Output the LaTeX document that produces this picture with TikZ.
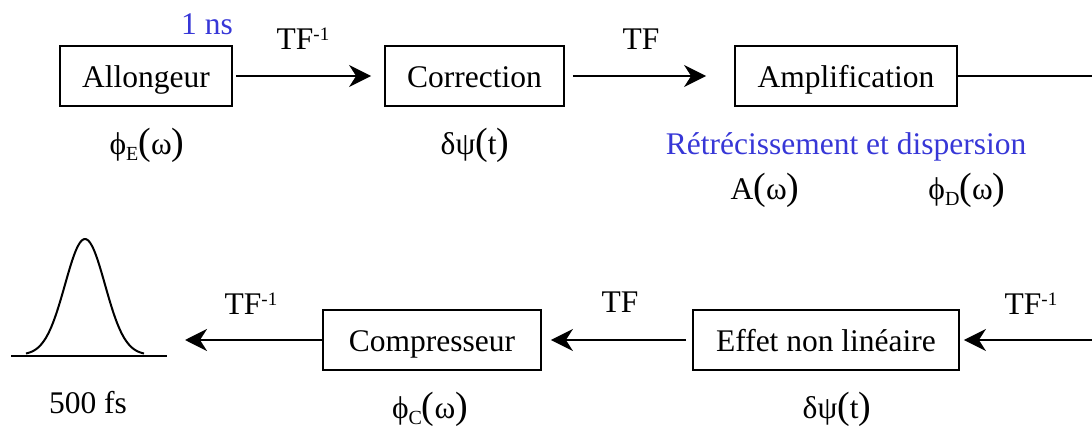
\documentclass[tikz,border=0pt]{standalone}
\usepackage{fontspec}
\setmainfont{Liberation Serif}
\usetikzlibrary{arrows.meta}
\definecolor{note}{RGB}{55,55,215}
\newcommand{\lowidx}[1]{\raisebox{-6pt}{\fontsize{20}{20}\selectfont #1}}
\newcommand{\tfinv}{TF\raisebox{9pt}{\fontsize{19}{19}\selectfont -1}}
\newcommand{\wrapp}[1]{{\fontsize{38}{38}\selectfont(}#1{\fontsize{38}{38}\selectfont)}}

\begin{document}
\begin{tikzpicture}[x=1pt, y=-1pt, font=\fontsize{31.5}{36}\selectfont,
  box/.style={draw, line width=1.8pt, minimum height=60pt, inner xsep=20pt, text height=23pt, text depth=0pt},
  lab/.style={anchor=base, inner sep=0pt},
  flow/.style={-{Stealth[length=22pt, width=22pt, inset=7pt]}, line width=2.6pt}]
\useasboundingbox (0,0) rectangle (1092,427);

% ---- top row
\node[box, minimum width=172pt] (allong) at (146,76) {Allongeur};
\node[box, minimum width=179pt] (corr) at (474.5,76) {Correction};
\node[box, minimum width=222pt] (ampli) at (846,76) {Amplification};
\coordinate (outA) at (1092,76);

\node[lab, text=note] (dur) at (207,35) {1 ns};
\node[lab] (tf1) at (303,50) {\tfinv};
\node[lab] (tf2) at (641,50) {TF};
\node[lab] (phiE) at (147,155) {ϕ\lowidx{E}\wrapp{ω}};
\node[lab] (dpsi1) at (475,155) {δψ\wrapp{t}};
\node[lab, text=note] (narrow) at (846,155) {Rétrécissement et dispersion};
\node[lab] (gain) at (765,200) {A\wrapp{ω}};
\node[lab] (phiD) at (967,200) {ϕ\lowidx{D}\wrapp{ω}};

\draw[flow, shorten <=3pt, shorten >=13pt] (allong) -- (corr);
\draw[flow, shorten <=8pt, shorten >=28pt] (corr) -- (ampli);
\draw[line width=2.6pt] (ampli) -- (outA);

% ---- bottom row
\coordinate (inB) at (1092,340);
\node[box, minimum width=266pt] (effet) at (826,340) {Effet non linéaire};
\node[box, minimum width=218pt] (compr) at (432,340) {Compresseur};
\coordinate (pulse) at (185,340);

\node[lab] (tf3) at (1031,315) {\tfinv};
\node[lab] (tf4) at (620,313) {TF};
\node[lab] (tf5) at (251,315) {\tfinv};
\node[lab] (dpsi2) at (837,418) {δψ\wrapp{t}};
\node[lab] (phiC) at (430,418) {ϕ\lowidx{C}\wrapp{ω}};
\node[lab] (width) at (88,413) {500 fs};

\draw[flow, shorten >=4pt] (inB) -- (effet);
\draw[flow, shorten <=6pt, shorten >=9pt] (effet) -- (compr);
\draw[flow] (compr) -- (pulse);

% compressed pulse
\draw[line width=2.4pt] (11,356) -- (167,356);
\draw[line width=2pt, smooth, domain=-59:59, samples=60]
  plot ({85+\x},{355-116*exp(-(\x*\x)/800)});
\end{tikzpicture}
\end{document}
